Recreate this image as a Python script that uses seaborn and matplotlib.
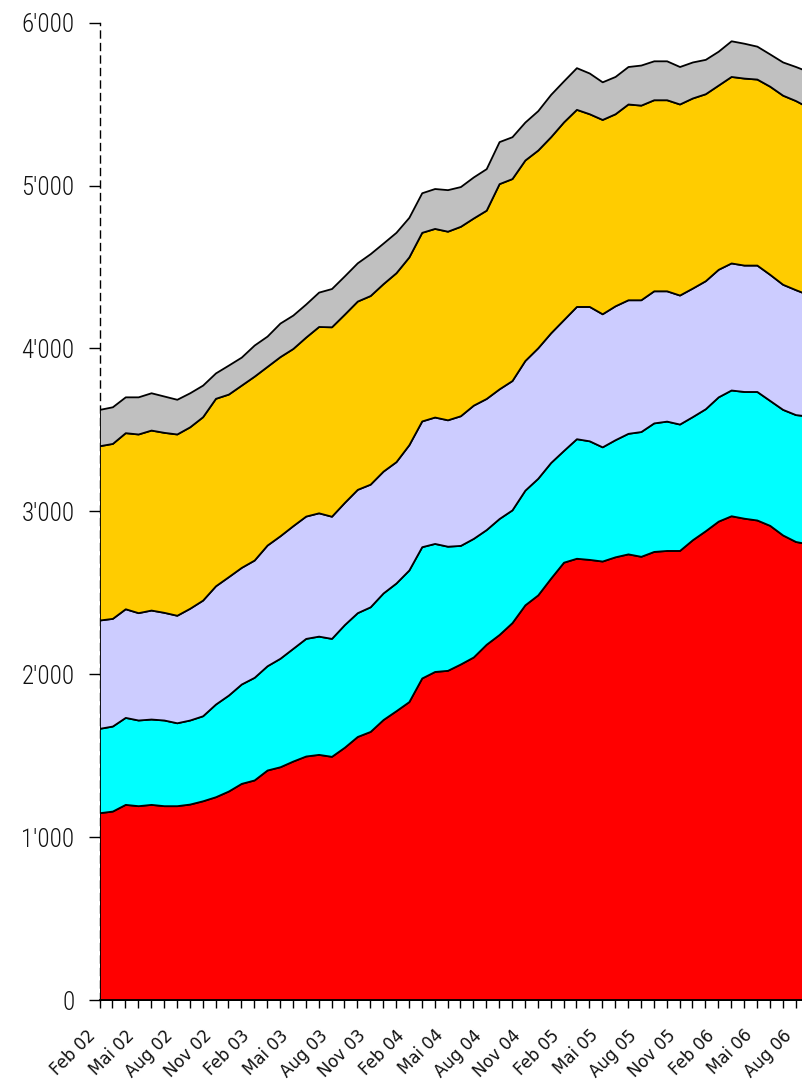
import matplotlib
matplotlib.use("Agg")
import matplotlib.pyplot as plt
import matplotlib.transforms as mtransforms
import seaborn as sns
import numpy as np
from matplotlib.ticker import FuncFormatter

# ---- data (monthly, Feb 02 ... Sep 06) ----
tick_labels = ["Feb 02", "Mai 02", "Aug 02", "Nov 02", "Feb 03", "Mai 03", "Aug 03",
               "Nov 03", "Feb 04", "Mai 04", "Aug 04", "Nov 04", "Feb 05", "Mai 05",
               "Aug 05", "Nov 05", "Feb 06", "Mai 06", "Aug 06"]

red = [1150, 1160, 1201, 1193, 1201, 1193, 1193, 1203, 1223, 1248, 1283, 1330, 1351, 1412,
       1432, 1467, 1498, 1508, 1496, 1552, 1618, 1649, 1722, 1776, 1832, 1977, 2017, 2024,
       2063, 2106, 2184, 2244, 2317, 2426, 2487, 2590, 2688, 2712, 2705, 2695, 2721, 2739,
       2724, 2754, 2760, 2760, 2826, 2881, 2940, 2973, 2958, 2947, 2914, 2855, 2815, 2800]
cyan = [518, 522, 534, 526, 524, 526, 509, 516, 522, 569, 589, 610, 630, 640,
        666, 692, 722, 726, 724, 753, 760, 765, 777, 784, 808, 806, 786, 762,
        728, 728, 704, 712, 692, 704, 716, 710, 686, 734, 728, 701, 719, 740,
        766, 789, 794, 776, 756, 749, 763, 772, 778, 789, 767, 771, 779, 785]
lavender = [665, 661, 667, 659, 669, 661, 660, 686, 710, 726, 727, 716, 720, 741,
            752, 753, 751, 757, 750, 750, 757, 753, 748, 745, 769, 772, 776, 776,
            796, 818, 805, 796, 794, 796, 801, 796, 803, 812, 825, 817, 822, 820,
            809, 811, 800, 792, 789, 786, 783, 780, 776, 776, 774, 768, 767, 745]
gold = [1070, 1074, 1081, 1097, 1105, 1105, 1113, 1114, 1126, 1151, 1121, 1119, 1129, 1097,
        1100, 1088, 1099, 1144, 1163, 1156, 1156, 1158, 1151, 1160, 1153, 1158, 1158, 1158,
        1163, 1149, 1156, 1260, 1240, 1231, 1214, 1204, 1214, 1210, 1183, 1193, 1179, 1202,
        1195, 1173, 1173, 1173, 1167, 1148, 1131, 1145, 1148, 1142, 1155, 1161, 1161, 1150]
gray = [223, 225, 220, 228, 229, 223, 213, 209, 194, 156, 178, 172, 191, 186,
        206, 205, 203, 211, 235, 235, 235, 257, 249, 248, 243, 243, 245, 255,
        244, 252, 255, 258, 257, 233, 242, 260, 252, 256, 250, 231, 229, 230,
        246, 239, 239, 230, 221, 211, 208, 219, 214, 202, 198, 204, 209, 220]

series = [red, cyan, lavender, gold, gray]
colors = ["#FF0000", "#00FFFF", "#CCCCFF", "#FFCC00", "#C0C0C0"]
y_ticks = [0, 1000, 2000, 3000, 4000, 5000, 6000]

# ---- style ----
sns.set_theme(style="white")
plt.rcParams["font.family"] = ["DejaVu Sans"]

W, H = 802, 1081
fig = plt.figure(figsize=(W / 100, H / 100), dpi=100)
fig.patch.set_facecolor("white")
x0_px, y0_px, ytop_px, step_px = 99.5, 1000.0, 22.7, 12.89
ax = fig.add_axes([x0_px / W, (H - y0_px) / H, (W - x0_px) / W, (y0_px - ytop_px) / H])
ax.set_facecolor("white")

x = np.arange(len(red))
ax.stackplot(x, *series, colors=colors, edgecolor="black", linewidth=1.3, zorder=2)

ax.set_xlim(0, (W - x0_px) / step_px)
ax.set_ylim(0, 6000)

# spines
for s in ["top", "right"]:
    ax.spines[s].set_visible(False)
ax.spines["left"].set_color("black")
ax.spines["left"].set_linewidth(1.0)
ax.spines["left"].set_linestyle((0, (5, 4)))
ax.spines["left"].set_zorder(1)
ax.spines["bottom"].set_color("black")
ax.spines["bottom"].set_linewidth(1.3)
ax.spines["bottom"].set_zorder(3)

# y axis
ax.set_yticks(y_ticks)
ax.yaxis.set_major_formatter(FuncFormatter(lambda v, p: f"{int(v):,}".replace(",", "'")))
ax.tick_params(axis="y", direction="out", length=8, width=1, color="black", pad=10,
               left=True, labelsize=18, labelcolor="#111111")
for lab in ax.get_yticklabels():
    lab.set_family(["Roboto Condensed", "DejaVu Sans"])
    lab.set_fontstretch("condensed")
    lab.set_fontweight("light")

# x axis: tick every month, labels every 3 months
n_ticks = 3 * (len(tick_labels) - 1) + 1
ax.set_xticks(np.arange(n_ticks))
labels = []
for i in range(n_ticks):
    labels.append(tick_labels[i // 3] if i % 3 == 0 else "")
ax.set_xticklabels(labels, rotation=45, ha="right", va="top", rotation_mode="anchor",
                   fontsize=12, family=["DejaVu Sans"])
ax.tick_params(axis="x", direction="out", length=6, width=1, color="black", pad=4,
               bottom=True, labelcolor="#111111")
offset = mtransforms.ScaledTranslation(-9.5 / 72, -9 / 72, fig.dpi_scale_trans)
for lab in ax.get_xticklabels():
    lab.set_transform(lab.get_transform() + offset)
ax.grid(False)

fig.savefig("out.png", dpi=100, facecolor="white")
